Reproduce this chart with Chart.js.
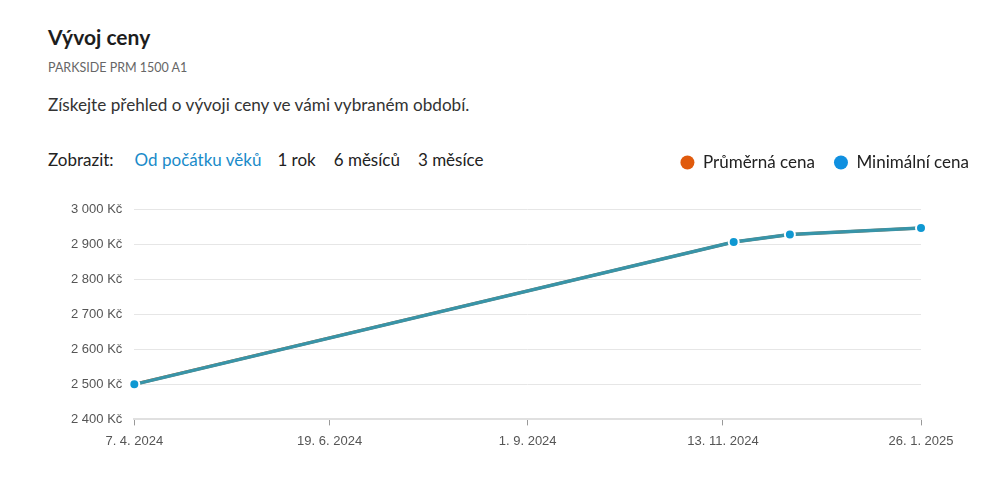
<!DOCTYPE html>
<html lang="cs">
<head>
<meta charset="utf-8">
<script src="https://cdn.jsdelivr.net/npm/chart.js@4"></script>
<style>
  body { margin: 0; background: #fff; font-family: Lato, "Noto Sans", sans-serif; color: #222; }
  .wrap { position: relative; width: 997px; height: 487px; }
  h2 { position: absolute; left: 48px; top: 24px; margin: 0; font-size: 21px; font-weight: 700; color: #1d1d1d; }
  .sub { position: absolute; left: 48px; top: 60px; font-size: 12.5px; color: #666; }
  .desc { position: absolute; left: 48px; top: 94px; font-size: 17.15px; color: #333; }
  .filter { position: absolute; left: 48px; top: 149px; font-size: 17px; color: #222; white-space: nowrap; }
  .filter span { margin-right: 18px; }
  .filter .lbl { margin-right: 21px; }
  .filter .active { color: #1a8bc9; margin-right: 16px; }
  .box { position: absolute; left: 40px; top: 135px; width: 957px; height: 322px; }
</style>
</head>
<body>
<div class="wrap">
  <h2>Vývoj ceny</h2>
  <div class="sub">PARKSIDE PRM 1500 A1</div>
  <div class="desc">Získejte přehled o vývoji ceny ve vámi vybraném období.</div>
  <div class="filter"><span class="lbl">Zobrazit:</span><span class="active">Od počátku věků</span><span>1 rok</span><span>6 měsíců</span><span>3 měsíce</span></div>
  <div class="box"><canvas id="price-chart"></canvas></div>
</div>
<script>
// dates of price changes and the prices
var dates = ['2024-04-07', '2024-11-17', '2024-12-08', '2025-01-26'];
var avgPrices = [2500, 2906, 2927, 2946];
var minPrices = [2500, 2906, 2927, 2946];
var xTickDates = ['2024-04-07', '2024-06-19', '2024-09-01', '2024-11-13', '2025-01-26'];
var yTicks = [2400, 2500, 2600, 2700, 2800, 2900, 3000];

var DAY = 86400000;
var start = Date.parse(dates[0]);
function dayOf(s) { return Math.round((Date.parse(s) - start) / DAY); }
function fmtDate(d) {
  var dt = new Date(start + d * DAY);
  return dt.getUTCDate() + '. ' + (dt.getUTCMonth() + 1) + '. ' + dt.getUTCFullYear();
}
function fmtPrice(v) {
  return String(v).replace(/\B(?=(\d{3})+(?!\d))/g, ' ') + ' Kč';
}
function points(values) {
  return dates.map(function(d, i) { return { x: dayOf(d), y: values[i] }; });
}

// extra space between legend and plot
var legendMargin = {
  id: 'legendMargin',
  beforeInit: function(chart) {
    var fit = chart.legend.fit;
    chart.legend.fit = function() {
      fit.bind(chart.legend)();
      this.height += 28;
    };
  }
};

var legendColors = ['#e05a0c', '#1090e0'];

var chart = new Chart(document.getElementById('price-chart'), {
  type: 'line',
  data: {
    datasets: [{
      label: 'Průměrná cena',
      data: points(avgPrices),
      order: 2,
      borderColor: '#e05a0c',
      backgroundColor: '#e05a0c',
      borderWidth: 3,
      pointRadius: 0,
      fill: false
    }, {
      label: 'Minimální cena',
      data: points(minPrices),
      order: 1,
      borderColor: '#3894a8',
      backgroundColor: '#0f98d2',
      borderWidth: 3.5,
      pointRadius: 5,
      pointBorderColor: '#fff',
      pointBorderWidth: 2,
      fill: false
    }]
  },
  options: {
    responsive: true,
    maintainAspectRatio: false,
    animation: false,
    clip: false,
    layout: { padding: { left: 19, right: 9, bottom: 0, top: 0 } },
    plugins: {
      legend: {
        align: 'end',
        labels: {
          usePointStyle: true,
          pointStyle: 'circle',
          pointStyleWidth: 14,
          boxHeight: 10,
          padding: 19,
          color: '#222',
          generateLabels: function(c) {
            return c.data.datasets.map(function(ds, i) {
              return {
                text: ds.label,
                fillStyle: legendColors[i],
                strokeStyle: legendColors[i],
                lineWidth: 0,
                pointStyle: 'circle',
                datasetIndex: i,
                fontColor: '#222'
              };
            });
          },
          font: { size: 17, family: 'Lato' }
        }
      },
      tooltip: { enabled: false }
    },
    scales: {
      x: {
        type: 'linear',
        min: 0,
        max: dayOf(xTickDates[xTickDates.length - 1]),
        afterBuildTicks: function(scale) {
          scale.ticks = xTickDates.map(function(d) { return { value: dayOf(d) }; });
        },
        grid: { drawOnChartArea: false, color: '#999', tickLength: 6 },
        border: { color: '#e0e0e0', width: 2 },
        ticks: {
          color: '#555',
          padding: 8,
          maxRotation: 0,
          font: { size: 13, family: 'Liberation Sans' },
          callback: function(v) { return fmtDate(v); }
        }
      },
      y: {
        min: yTicks[0],
        max: yTicks[yTicks.length - 1],
        afterBuildTicks: function(scale) {
          scale.ticks = yTicks.map(function(v) { return { value: v }; });
        },
        grid: { color: '#e6e6e6', drawTicks: false },
        border: { display: false },
        ticks: {
          color: '#555',
          padding: 12,
          font: { size: 13, family: 'Liberation Sans' },
          callback: function(v) { return fmtPrice(v); }
        }
      },
      // empty right axis: keeps room on the right of the plot
      yRight: {
        type: 'linear',
        position: 'right',
        grid: { display: false },
        border: { display: false },
        ticks: { display: false },
        afterFit: function(scale) { scale.width = 67; }
      }
    }
  },
  plugins: [legendMargin]
});
</script>
</body>
</html>
